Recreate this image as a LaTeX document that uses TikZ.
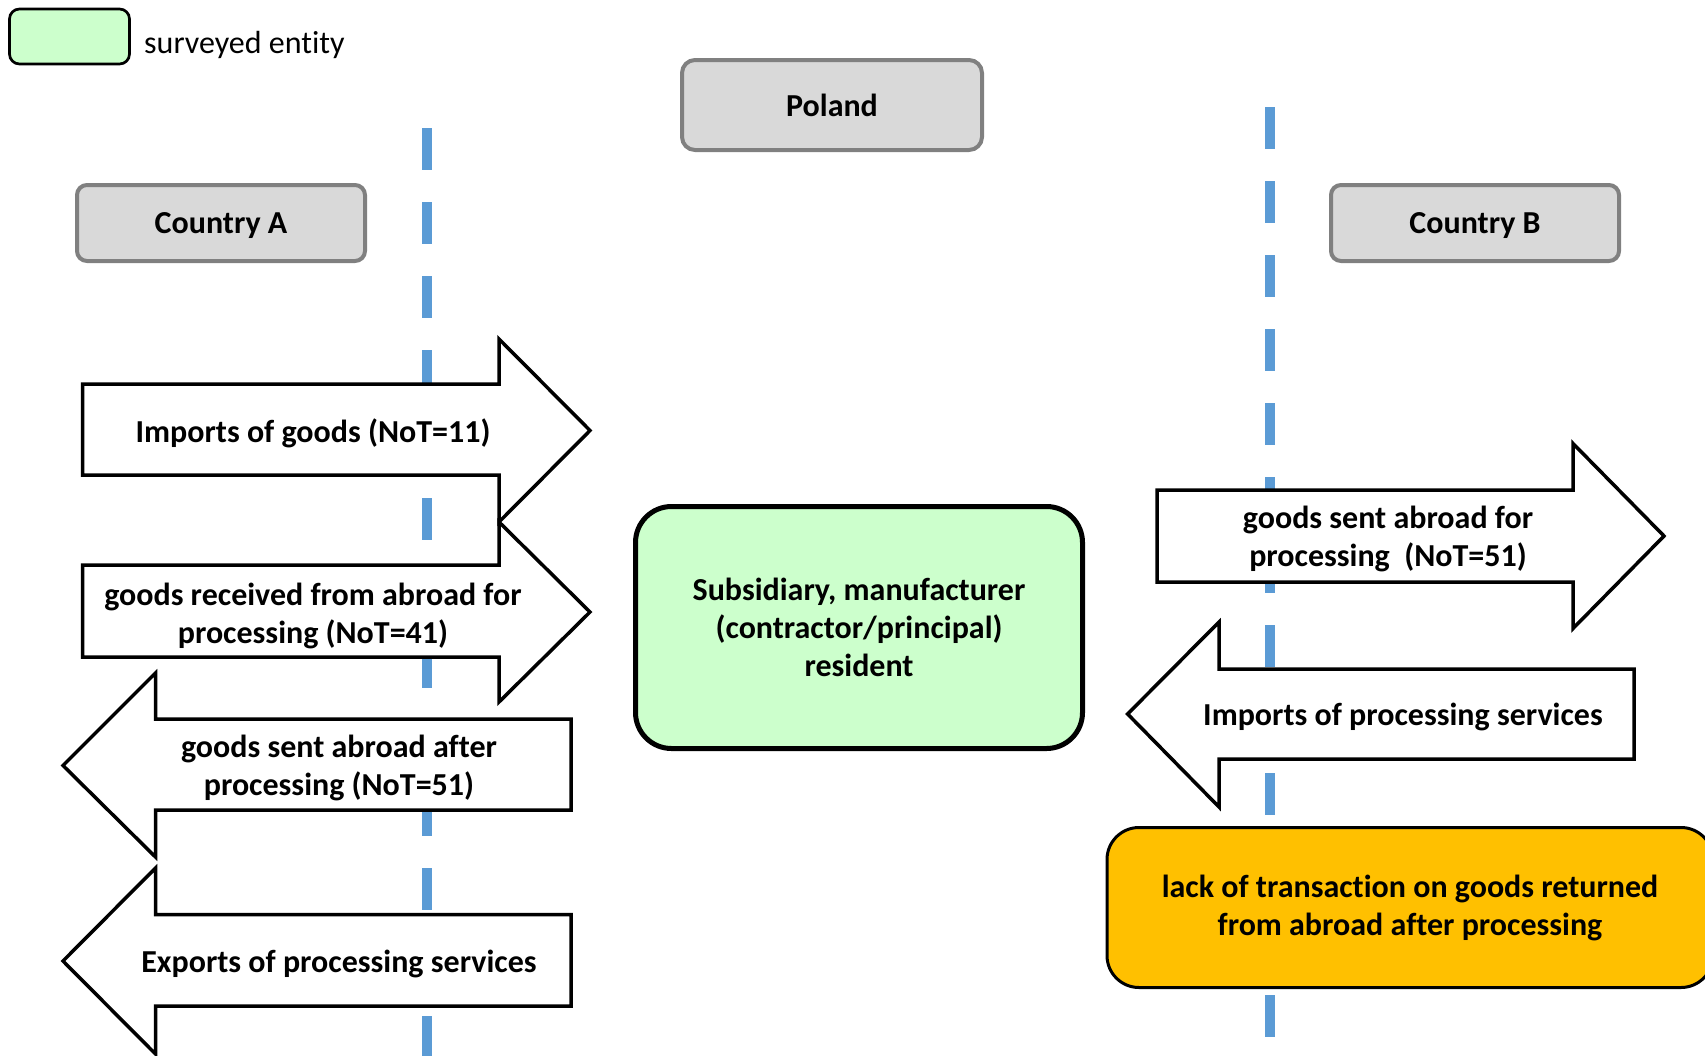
\documentclass[tikz,border=0pt]{standalone}
\usepackage{fontspec}
\setmainfont{Carlito}[Ligatures=NoCommon]
\definecolor{sepblue}{HTML}{5B9BD5}
\definecolor{entitygreen}{HTML}{CCFFCC}
\definecolor{countryfill}{HTML}{D9D9D9}
\definecolor{countryline}{HTML}{808080}
\definecolor{noteorange}{HTML}{FFC000}
\tikzset{
  flowtext/.style={font=\fontsize{32}{38}\selectfont\bfseries, align=center, inner sep=0pt},
  country/.style={draw=countryline, fill=countryfill, line width=4pt, rounded corners=10pt, flowtext, text depth=0pt},
  blockarrow/.style={draw=black, fill=white, line width=3.5pt, line join=miter},
  borderline/.style={sepblue, line width=9.5pt, dash pattern=on 42pt off 32pt},
}
\begin{document}
\begin{tikzpicture}[x=1pt,y=-1pt]
\useasboundingbox (0,0) rectangle (1705,1055);

% legend
\node[draw, line width=2.7pt, fill=entitygreen, rounded corners=10pt,
      minimum width=120pt, minimum height=55pt] (key) at (69.5,36.5) {};
\node[anchor=base west, font=\fontsize{32}{38}\selectfont, inner sep=0pt] (keytext) at (144,53) {surveyed entity};

% country headers
\node[country, rounded corners=13pt, minimum width=300pt, minimum height=90pt] (pl) at (832,105) {Poland};
\node[country, minimum width=288pt, minimum height=76pt] (ca) at (221,223) {Country A};
\node[country, minimum width=288pt, minimum height=76pt] (cb) at (1475,223) {Country B};

% borders between countries
\coordinate (la) at (427,128);
\coordinate (lb) at (427,1062);
\coordinate (ra) at (1270,107);
\coordinate (rb) at (1270,1037);
\draw[borderline] (la) -- (lb);
\draw[borderline] (ra) -- (rb);

% flows with country A
\draw[blockarrow] (82.6,384) -- (499,384) -- (499,339) -- (590,430.5) -- (499,522) -- (499,475) -- (82.6,475) -- cycle;
\node[flowtext] (imp) at (313,433.5) {Imports of goods (NoT=11)};

\draw[blockarrow] (82.6,565) -- (499,565) -- (499,522) -- (590,612) -- (499,702) -- (499,657) -- (82.6,657) -- cycle;
\node[flowtext] (recv) at (313,615.5) {goods received from abroad for\\processing (NoT=41)};

\draw[blockarrow] (571,719) -- (155.5,719) -- (155.5,673) -- (63,765.5) -- (155.5,857) -- (155.5,810) -- (571,810) -- cycle;
\node[flowtext] (sentafter) at (339,768) {goods sent abroad after\\processing (NoT=51)};

\draw[blockarrow] (571,914.5) -- (155.5,914.5) -- (155.5,868) -- (63,961) -- (155.5,1054) -- (155.5,1006) -- (571,1006) -- cycle;
\node[flowtext] (expserv) at (339,963.5) {Exports of processing services};

% flows with country B
\draw[blockarrow] (1157,490) -- (1573,490) -- (1573,443.5) -- (1664,536) -- (1573,628.5) -- (1573,582) -- (1157,582) -- cycle;
\node[flowtext] (sentfor) at (1388,538.5) {goods sent abroad for\\processing~~(NoT=51)};

\draw[blockarrow] (1634,669) -- (1219,669) -- (1219,622) -- (1127.6,714) -- (1219,807) -- (1219,759) -- (1634,759) -- cycle;
\node[flowtext] (impserv) at (1403,716.5) {Imports of processing services};

% surveyed entity
\node[draw, line width=5pt, fill=entitygreen, rounded corners=36pt, flowtext,
      minimum width=447pt, minimum height=242pt] (sub) at (859,627.5)
      {Subsidiary, manufacturer\\(contractor/principal)\\resident};

% note
\node[draw, line width=3pt, fill=noteorange, rounded corners=32pt, flowtext,
      minimum width=606pt, minimum height=160pt] (lack) at (1410,907.5)
      {lack of transaction on goods returned\\from abroad after processing};
\end{tikzpicture}
\end{document}
